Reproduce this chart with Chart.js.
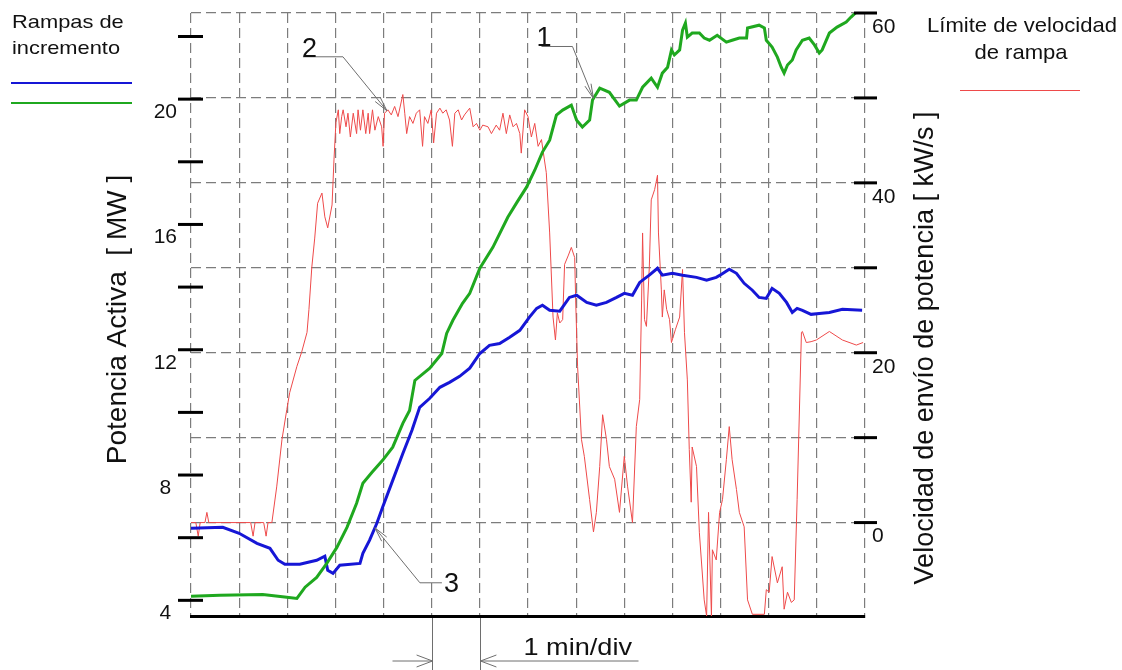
<!DOCTYPE html>
<html lang="es">
<head>
  <meta charset="UTF-8" />
  <title>Rampas de incremento de potencia</title>
  <script src="https://cdn.jsdelivr.net/npm/chart.js"></script>
  <style>
    body {
      margin: 0;
      background: #ffffff;
    }
    #marco {
      position: relative;
      width: 1122px;
      height: 670px;
    }
  </style>
</head>
<body>
  <div id="marco"><canvas id="graficoRampas"></canvas></div>

  <script>
    // Tiempo en minutos (1 min/div), potencia en MW, velocidad en kW/s
    const azulT  = [0, 0.66, 1.00, 1.37, 1.64, 1.81, 1.95, 2.26, 2.61, 2.78, 2.84, 2.95, 3.09, 3.51, 3.57, 3.71, 3.86, 3.98, 4.19, 4.40, 4.59, 4.75, 4.96, 5.17, 5.37, 5.58, 5.79, 6.00, 6.20, 6.41, 6.62, 6.83, 7.03, 7.18, 7.30, 7.45, 7.66, 7.86, 8.01, 8.22, 8.42, 8.63, 8.84, 9.00, 9.17, 9.32, 9.52, 9.69, 9.79, 10.00, 10.21, 10.50, 10.71, 10.91, 11.02, 11.18, 11.33, 11.49, 11.66, 11.80, 11.95, 12.07, 12.22, 12.37, 12.49, 12.59, 12.70, 12.88, 13.05, 13.26, 13.53, 13.94];
    const azulMW = [6.30, 6.33, 6.14, 5.82, 5.66, 5.28, 5.15, 5.15, 5.28, 5.41, 4.96, 4.86, 5.12, 5.18, 5.50, 5.92, 6.46, 6.97, 7.83, 8.69, 9.43, 10.16, 10.45, 10.80, 10.96, 11.15, 11.41, 11.88, 12.14, 12.20, 12.40, 12.62, 13.04, 13.32, 13.42, 13.26, 13.23, 13.67, 13.74, 13.51, 13.42, 13.51, 13.67, 13.80, 13.74, 14.15, 14.38, 14.60, 14.38, 14.44, 14.38, 14.31, 14.22, 14.31, 14.41, 14.57, 14.44, 14.12, 13.90, 13.67, 13.64, 13.96, 13.80, 13.51, 13.19, 13.32, 13.26, 13.13, 13.16, 13.19, 13.29, 13.26];

    const verdeT  = [0, 0.60, 1.49, 1.99, 2.20, 2.37, 2.61, 2.82, 3.03, 3.24, 3.44, 3.57, 3.76, 3.98, 4.19, 4.40, 4.54, 4.65, 4.96, 5.21, 5.31, 5.44, 5.64, 5.79, 6.00, 6.27, 6.58, 6.76, 6.97, 7.14, 7.30, 7.45, 7.59, 7.72, 7.90, 8.01, 8.13, 8.28, 8.34, 8.49, 8.69, 8.90, 9.11, 9.25, 9.38, 9.56, 9.69, 9.79, 9.90, 9.98, 10.04, 10.15, 10.21, 10.27, 10.31, 10.41, 10.56, 10.66, 10.77, 10.93, 11.12, 11.24, 11.39, 11.54, 11.56, 11.80, 11.91, 11.95, 12.07, 12.18, 12.26, 12.32, 12.39, 12.49, 12.57, 12.70, 12.84, 12.95, 13.05, 13.11, 13.26, 13.42, 13.61, 13.71, 13.82, 13.95];
    const verdeMW = [4.13, 4.16, 4.19, 4.10, 4.06, 4.42, 4.73, 5.18, 5.69, 6.33, 7.10, 7.74, 8.09, 8.47, 8.89, 9.65, 10.06, 11.02, 11.41, 11.88, 12.52, 12.94, 13.48, 13.80, 14.60, 15.27, 16.23, 16.68, 17.19, 17.73, 18.31, 18.69, 19.49, 19.65, 19.81, 19.33, 19.11, 19.33, 19.97, 20.35, 20.22, 19.78, 19.97, 19.97, 20.38, 20.67, 20.38, 20.83, 21.02, 21.57, 21.41, 21.57, 22.20, 22.43, 21.98, 22.11, 22.11, 21.95, 21.88, 22.04, 21.82, 21.88, 21.95, 21.95, 22.27, 22.36, 22.27, 21.88, 21.66, 21.34, 21.02, 20.83, 21.09, 21.25, 21.57, 21.88, 21.95, 21.73, 21.47, 21.57, 22.11, 22.30, 22.46, 22.62, 22.78, 22.95];

    const rojoT  = [0, 0.10, 0.15, 0.19, 0.29, 0.33, 0.37, 0.81, 1.24, 1.29, 1.33, 1.51, 1.56, 1.60, 1.68, 1.78, 1.89, 1.99, 2.05, 2.20, 2.30, 2.41, 2.45, 2.51, 2.57, 2.63, 2.72, 2.78, 2.84, 2.93, 2.97, 3.01,
                    3.06, 3.09, 3.13, 3.16, 3.22, 3.26, 3.31, 3.37, 3.44, 3.47, 3.52, 3.57, 3.63, 3.68, 3.71, 3.77, 3.82, 3.89, 3.96, 3.99, 4.02, 4.09, 4.16, 4.23, 4.30, 4.40, 4.44, 4.48, 4.54, 4.61, 4.68,
                    4.75, 4.81, 4.85, 4.92, 4.99, 5.04, 5.10, 5.17, 5.23, 5.30, 5.37, 5.43, 5.48, 5.55, 5.62, 5.68, 5.79, 5.86, 5.93, 6.00, 6.06, 6.17, 6.24, 6.34, 6.41, 6.48, 6.55, 6.62, 6.69, 6.76, 6.83, 6.86,
                    6.93, 7.00, 7.07, 7.14, 7.21, 7.28, 7.31, 7.38, 7.45, 7.52, 7.57, 7.61, 7.66, 7.72, 7.76, 7.84, 7.90, 7.97, 7.99, 8.03, 8.11, 8.17, 8.28, 8.36, 8.42, 8.49, 8.55, 8.63, 8.69, 8.80, 8.90,
                    9.00, 9.07, 9.17, 9.25, 9.32, 9.36, 9.38, 9.42, 9.46, 9.52, 9.56, 9.63, 9.69, 9.71, 9.77, 9.79, 9.83, 9.88, 9.94, 9.98, 10.06, 10.15, 10.21, 10.25, 10.31, 10.35, 10.39, 10.41, 10.50,
                    10.56, 10.66, 10.71, 10.75, 10.81, 10.83, 10.91, 10.98, 11.04, 11.12, 11.18, 11.24, 11.33, 11.39, 11.49, 11.56, 11.66, 11.91, 11.95, 12.01, 12.07, 12.18, 12.28, 12.32, 12.39, 12.47,
                    12.53, 12.59, 12.68, 12.70, 12.78, 12.88, 12.99, 13.26, 13.53, 13.82, 13.96];
    const rojoKW = [0, 0, -1.6, 0, 0, 1.2, 0, 0, 0, -1.6, 0, 0, -1.6, 0, 0, 4.2, 9.8, 13.3, 15.3, 18.4, 20.1, 22.4, 25.1, 30.1, 33.5, 37.6, 38.8, 36.0, 34.7, 37.4, 42.7, 47.1,
                    48.6, 45.8, 47.8, 48.6, 46.6, 48.2, 45.4, 48.2, 45.8, 48.6, 46.2, 48.6, 45.8, 48.2, 45.8, 48.6, 46.2, 47.8, 46.6, 44.3, 48.2, 48.6, 48.0, 49.0, 47.8, 50.4, 48.2, 45.8, 47.8, 47.0, 48.2,
                    48.6, 44.3, 47.8, 47.0, 48.6, 44.7, 48.2, 48.8, 48.2, 48.6, 47.4, 44.3, 48.2, 48.6, 47.4, 48.0, 48.8, 46.6, 47.0, 46.2, 46.8, 46.6, 45.8, 46.8, 46.2, 48.2, 45.8, 48.0, 46.6, 47.0, 45.8, 43.5,
                    48.6, 47.8, 45.4, 47.0, 44.3, 45.1, 43.9, 41.2, 34.1, 24.2, 21.5, 24.7, 23.5, 23.9, 30.4, 31.5, 32.4, 31.2, 26.2, 18.4, 9.8, 7.8, 2.7, -1.1, 1.2, 6.6, 12.7, 9.8, 6.6, 5.1, 1.2,
                    7.8, 4.2, 0, 11.3, 14.5, 26.2, 34.1, 23.9, 23.1, 30.1, 38.0, 39.2, 40.9, 34.1, 27.4, 24.2, 27.4, 25.1, 23.9, 21.2, 22.7, 24.2, 29.8, 22.4, 16.8, 8.6, 2.4, 8.9, 6.6,
                    -1.2, -9.1, -11, 1.2, -11, -3.2, -4.4, 1.2, 2.7, 7.4, 11.3, 7.4, 3.9, 1.2, -0.5, -9.1, -10.8, -10.8, -7.9, -8.2, -4.0, -7.1, -5.2, -10.2, -8.2, -9.4,
                    -9.1, 2.7, 22.4, 22.5, 21.2, 21.3, 21.5, 22.5, 21.5, 20.9, 21.2];

    // Escalas
    const minutos = 14;
    const marcasMW = [4, 6, 8, 10, 12, 14, 16, 18, 20, 22];
    const etiquetasMW = [4, 8, 12, 16, 20];
    const marcasKW = [0, 10, 20, 30, 40, 50, 60];
    const etiquetasKW = [0, 20, 40, 60];

    const colorAzul = '#1616d6';
    const colorVerde = '#1fa81f';
    const colorRojo = '#ee4a4a';
    const gris = '#6e6e6e';
    const fuente = "'Liberation Sans', Arial, sans-serif";

    // Llamadas numeradas: serie, instante (min), codo y tramo horizontal en px
    const llamadas = [
      { texto: '1', serie: 'verde', t: 8.36, codo: [-21, -52], tramo: -31, txt: [-5, 0] },
      { texto: '2', serie: 'rojo',  t: 4.07, codo: [-44, -54], tramo: -40, txt: [-1, 0] },
      { texto: '3', serie: 'azul',  t: 3.82, codo: [45, 55],   tramo: 22,  txt: [2, 9] }
    ];

    const series = {
      azul:  { t: azulT,  v: azulMW,  eje: 'yMW' },
      verde: { t: verdeT, v: verdeMW, eje: 'yMW' },
      rojo:  { t: rojoT,  v: rojoKW,  eje: 'yKW' }
    };

    function puntos(ts, vs) {
      return ts.map((t, i) => ({ x: t, y: vs[i] }));
    }

    function valorEn(ts, vs, t) {
      for (let i = 1; i < ts.length; i++) {
        if (ts[i] >= t) {
          const f = (t - ts[i - 1]) / (ts[i] - ts[i - 1]);
          return vs[i - 1] + f * (vs[i] - vs[i - 1]);
        }
      }
      return vs[vs.length - 1];
    }

    function linea(ctx, x1, y1, x2, y2) {
      ctx.beginPath();
      ctx.moveTo(x1, y1);
      ctx.lineTo(x2, y2);
      ctx.stroke();
    }

    // punta abierta en (x2, y2)
    function punta(ctx, x1, y1, x2, y2, largo, abre) {
      const ang = Math.atan2(y2 - y1, x2 - x1);
      ctx.beginPath();
      ctx.moveTo(x2 - largo * Math.cos(ang - abre), y2 - largo * Math.sin(ang - abre));
      ctx.lineTo(x2, y2);
      ctx.lineTo(x2 - largo * Math.cos(ang + abre), y2 - largo * Math.sin(ang + abre));
      ctx.stroke();
    }

    function rotulo(ctx, str, x, y, tam, alinear, estirar, giro) {
      ctx.save();
      ctx.translate(x, y);
      if (giro) ctx.rotate(giro);
      ctx.scale(estirar || 1, 1);
      ctx.font = tam + 'px ' + fuente;
      ctx.fillStyle = '#111111';
      ctx.textAlign = alinear || 'left';
      ctx.textBaseline = 'alphabetic';
      ctx.fillText(str, 0, 0);
      ctx.restore();
    }

    const anotaciones = {
      id: 'anotaciones',
      afterDraw(chart) {
        const { ctx, chartArea: a, scales } = chart;
        const ex = scales.x, yL = scales.yMW, yR = scales.yKW;
        ctx.save();

        // marcas gruesas sobre los ejes verticales
        ctx.strokeStyle = '#000000';
        ctx.lineWidth = 3;
        yL.ticks.forEach(tk => {
          const py = yL.getPixelForValue(tk.value);
          linea(ctx, a.left - 13, py, a.left + 12, py);
        });
        yR.ticks.forEach(tk => {
          const py = yR.getPixelForValue(tk.value);
          linea(ctx, a.right - 11, py, a.right + 12, py);
        });

        // títulos de los ejes
        rotulo(ctx, 'Potencia Activa  [ MW ]', 126, (a.top + a.bottom) / 2 + 5, 28, 'center', 1, -Math.PI / 2);
        rotulo(ctx, 'Velocidad de envío de potencia [ kW/s ]', a.right + 68, 348, 27, 'center', 1, -Math.PI / 2);

        // leyendas
        rotulo(ctx, 'Rampas de', 12, 28, 19, 'left', 1.15);
        rotulo(ctx, 'incremento', 12, 54, 19, 'left', 1.15);
        ctx.lineWidth = 2.2;
        ctx.strokeStyle = colorAzul;
        linea(ctx, 11, 83, 132, 83);
        ctx.strokeStyle = colorVerde;
        linea(ctx, 11, 103, 132, 103);

        rotulo(ctx, 'Límite de velocidad', 1022, 32, 21, 'center', 1.05);
        rotulo(ctx, 'de rampa', 1021, 59, 21, 'center', 1.05);
        ctx.lineWidth = 1;
        ctx.strokeStyle = colorRojo;
        linea(ctx, 960, 90.5, 1080, 90.5);

        // llamadas 1, 2 y 3
        ctx.strokeStyle = gris;
        ctx.lineWidth = 1;
        llamadas.forEach(ll => {
          const s = series[ll.serie];
          const px = ex.getPixelForValue(ll.t);
          const py = scales[s.eje].getPixelForValue(valorEn(s.t, s.v, ll.t));
          const cx = px + ll.codo[0], cy = py + ll.codo[1];
          const fx = cx + ll.tramo;
          ctx.beginPath();
          ctx.moveTo(fx, cy);
          ctx.lineTo(cx, cy);
          ctx.lineTo(px, py);
          ctx.stroke();
          punta(ctx, cx, cy, px, py, 15, 0.22);
          const tx = Math.min(fx, cx) === fx && ll.tramo < 0 ? fx : fx;
          rotulo(ctx, ll.texto, tx + ll.txt[0], cy + ll.txt[1], 27, 'left');
        });

        // escala de tiempo: 1 min/div
        const x5 = Math.round(ex.getPixelForValue(5)) + 0.5;
        const x6 = Math.round(ex.getPixelForValue(6)) + 0.5;
        const yf = a.bottom + 45;
        ctx.strokeStyle = gris;
        linea(ctx, x5, a.bottom + 2, x5, 670);
        linea(ctx, x6, a.bottom + 2, x6, 670);
        linea(ctx, x5 - 40, yf, x5, yf);
        punta(ctx, x5 - 40, yf, x5, yf, 17, 0.36);
        linea(ctx, x6 + 158, yf, x6, yf);
        punta(ctx, x6 + 158, yf, x6, yf, 17, 0.36);
        rotulo(ctx, '1 min/div', x6 + 43, yf - 6, 24, 'left', 1.13);

        ctx.restore();
      }
    };

    const grafico = new Chart(document.getElementById('graficoRampas'), {
      type: 'line',
      data: {
        datasets: [
          { label: 'Rampa verde', data: puntos(verdeT, verdeMW), yAxisID: 'yMW', borderColor: colorVerde, borderWidth: 3, pointRadius: 0, tension: 0, order: 1 },
          { label: 'Rampa azul', data: puntos(azulT, azulMW), yAxisID: 'yMW', borderColor: colorAzul, borderWidth: 3, pointRadius: 0, tension: 0, order: 2 },
          { label: 'Límite de velocidad de rampa', data: puntos(rojoT, rojoKW), yAxisID: 'yKW', borderColor: colorRojo, borderWidth: 1, pointRadius: 0, tension: 0, order: 3 }
        ]
      },
      options: {
        responsive: true,
        maintainAspectRatio: false,
        animation: false,
        events: [],
        layout: { padding: { top: 13, left: 0, right: 0, bottom: 0 } },
        plugins: {
          legend: { display: false },
          tooltip: { enabled: false }
        },
        scales: {
          x: {
            type: 'linear',
            min: 0,
            max: minutos,
            ticks: { stepSize: 1, display: false },
            grid: { color: '#7c7c7c', lineWidth: 1.2, drawTicks: false },
            border: { display: true, color: '#000000', width: 3, dash: [10, 5] },
            afterFit: s => { s.height = 54; s.paddingLeft = 0; s.paddingRight = 0; }
          },
          yMW: {
            type: 'linear',
            position: 'left',
            min: 3.5,
            max: 22.75,
            afterBuildTicks: s => { s.ticks = marcasMW.map(v => ({ value: v })); },
            ticks: {
              callback: v => etiquetasMW.includes(v) ? String(v) : '',
              font: { size: 21, family: fuente },
              color: '#111111',
              padding: 14,
              crossAlign: 'center',
              labelOffset: 13
            },
            grid: { display: false, drawTicks: false },
            border: { display: false },
            afterFit: s => { s.width = 191; s.paddingTop = 0; s.paddingBottom = 0; }
          },
          yKW: {
            type: 'linear',
            position: 'right',
            min: -11,
            max: 60,
            afterBuildTicks: s => { s.ticks = marcasKW.map(v => ({ value: v })); },
            ticks: {
              callback: v => etiquetasKW.includes(v) ? String(v) : '',
              font: { size: 21, family: fuente },
              color: '#111111',
              padding: 7,
              labelOffset: 14
            },
            grid: { color: '#7c7c7c', lineWidth: 1.2, drawTicks: false },
            border: { display: false, dash: [10, 5] },
            afterFit: s => { s.width = 257; s.paddingTop = 0; s.paddingBottom = 0; }
          }
        }
      },
      plugins: [anotaciones]
    });
  </script>
</body>
</html>
